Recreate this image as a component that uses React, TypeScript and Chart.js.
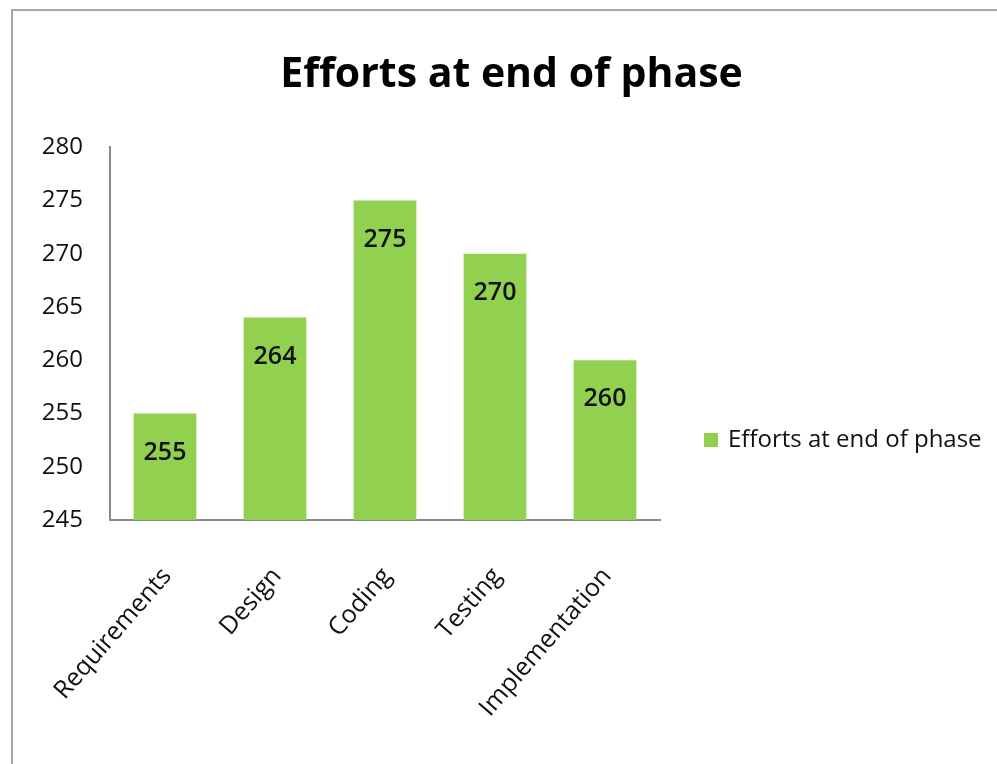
import React, { useEffect, useRef } from "react";
import { Chart, registerables } from "chart.js";

Chart.register(...registerables);

const categories = ["Requirements", "Design", "Coding", "Testing", "Implementation"];
const effortValues = [255, 264, 275, 270, 260];
const seriesLabel = "Efforts at end of phase";
const chartTitle = "Efforts at end of phase";
const yMin = 245;
const yMax = 280;
const yStep = 5;

const BAR_COLOR = "#92D050";
const FONT = "'Open Sans', 'Noto Sans', sans-serif";

const valueLabelPlugin = {
  id: "valueLabels",
  afterDatasetsDraw(chart: any) {
    const ctx = chart.ctx;
    const meta = chart.getDatasetMeta(0);
    const data = chart.data.datasets[0].data;
    ctx.save();
    ctx.font = `600 25px ${FONT}`;
    ctx.fillStyle = "#111";
    ctx.textAlign = "center";
    ctx.textBaseline = "middle";
    meta.data.forEach((bar: any, i: number) => {
      ctx.fillText(String(data[i]), bar.x, bar.y + 39);
    });
    ctx.restore();
  },
};

const sideLegendPlugin = {
  id: "sideLegend",
  afterDraw(chart: any) {
    const ctx = chart.ctx;
    const area = chart.chartArea;
    const ds = chart.data.datasets[0];
    const cy = area.bottom - 80;
    ctx.save();
    ctx.fillStyle = ds.backgroundColor;
    ctx.fillRect(area.right + 44, cy - 7, 14, 14);
    ctx.font = `24px ${FONT}`;
    ctx.fillStyle = "#111";
    ctx.textAlign = "left";
    ctx.textBaseline = "middle";
    ctx.fillText(ds.label, area.right + 68, cy);
    ctx.restore();
  },
};

export default function App() {
  const canvasRef = useRef<HTMLCanvasElement | null>(null);

  useEffect(() => {
    if (!canvasRef.current) return;
    const chart = new Chart(canvasRef.current, {
      type: "bar",
      data: {
        labels: categories,
        datasets: [
          {
            label: seriesLabel,
            data: effortValues,
            backgroundColor: BAR_COLOR,
            borderWidth: 0,
            barPercentage: 0.57,
            categoryPercentage: 1,
          },
        ],
      },
      options: {
        animation: false,
        responsive: false,
        maintainAspectRatio: false,
        layout: { padding: { left: 26, right: 0, top: 0, bottom: 0 } },
        plugins: {
          legend: { display: false },
          tooltip: { enabled: false },
          title: {
            display: true,
            text: chartTitle,
            color: "#000",
            font: { family: FONT, size: 41, weight: "bold", lineHeight: 1.2 },
            padding: { top: 51, bottom: 47 },
          },
        },
        scales: {
          x: {
            grid: { display: false, drawTicks: false },
            border: { display: true, color: "#8a8a8a", width: 2 },
            ticks: {
              color: "#111",
              font: { family: FONT, size: 25 },
              minRotation: 49,
              maxRotation: 49,
              padding: 42,
              labelOffset: 2,
              autoSkip: false,
            },
            afterFit(scale: any) {
              scale.height = 244;
              scale.paddingLeft = 0;
              scale.paddingRight = 0;
            },
          },
          y: {
            min: yMin,
            max: yMax,
            grid: { display: false, drawTicks: false },
            border: { display: true, color: "#8a8a8a", width: 2 },
            ticks: {
              stepSize: yStep,
              color: "#111",
              font: { family: FONT, size: 24 },
              padding: 27,
            },
            afterFit(scale: any) {
              scale.width = 84;
            },
          },
          spacer: {
            type: "linear",
            position: "right",
            display: true,
            grid: { display: false, drawTicks: false },
            border: { display: false },
            ticks: { display: false },
            afterFit(scale: any) {
              scale.width = 337;
            },
          },
        },
      },
      plugins: [valueLabelPlugin, sideLegendPlugin],
    } as any);
    return () => chart.destroy();
  }, []);

  return (
    <div style={{ position: "absolute", left: 0, top: 0, width: 997, height: 764, background: "#fff" }}>
      <div
        style={{
          position: "absolute",
          left: 11,
          top: 9,
          right: 0,
          bottom: 0,
          borderTop: "2px solid #a6a6a6",
          borderLeft: "2px solid #a6a6a6",
        }}
      />
      <canvas
        ref={canvasRef}
        width={997}
        height={764}
        style={{ position: "absolute", left: 0, top: 0, width: 997, height: 764 }}
      />
    </div>
  );
}
